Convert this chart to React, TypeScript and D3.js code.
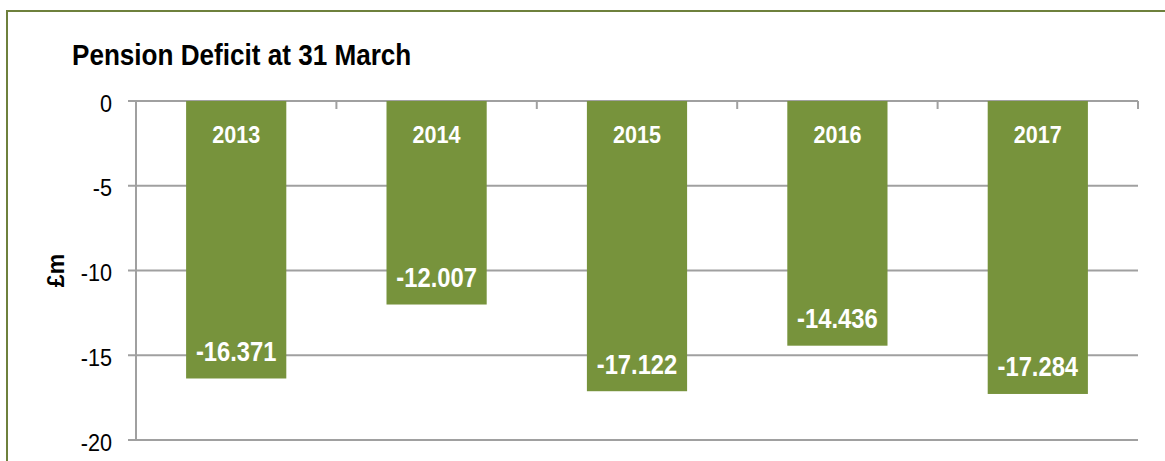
import * as d3 from "d3";
import { useEffect, useRef } from "react";

const years = ["2013", "2014", "2015", "2016", "2017"];
const deficits = [-16.371, -12.007, -17.122, -14.436, -17.284];
const yTicks = [0, -5, -10, -15, -20];

const WIDTH = 1165;
const HEIGHT = 461;
const FONT = "'Liberation Sans', Arial, sans-serif";
const BAR = "#77933c";
const GRID = "#a0a0a0";

function DeficitChart() {
  const ref = useRef(null);

  useEffect(() => {
    document.body.style.margin = "0";
    const svg = d3.select(ref.current);
    svg.selectAll("*").remove();

    const x = d3
      .scaleBand()
      .domain(years)
      .range([136, 1138])
      .paddingInner(0.5)
      .paddingOuter(0.25);
    const y = d3.scaleLinear().domain([-20, 0]).range([440, 101]);

    // outer frame (runs off the bottom/right of the picture)
    svg
      .append("rect")
      .attr("x", 7)
      .attr("y", 11)
      .attr("width", 1180)
      .attr("height", 480)
      .attr("fill", "white")
      .attr("stroke", "#6e803c")
      .attr("stroke-width", 2);

    svg
      .append("text")
      .attr("transform", "translate(72,65) scale(0.87,1)")
      .attr("font-family", FONT)
      .attr("font-size", 30)
      .attr("font-weight", "bold")
      .attr("fill", "#000")
      .text("Pension Deficit at 31 March");

    // gridlines + y tick marks
    svg
      .append("g")
      .selectAll("line")
      .data(yTicks)
      .join("line")
      .attr("x1", 128)
      .attr("x2", 1138)
      .attr("y1", (d) => y(d))
      .attr("y2", (d) => y(d))
      .attr("stroke", GRID)
      .attr("stroke-width", 2);

    svg
      .append("g")
      .selectAll("text")
      .data(yTicks)
      .join("text")
      .attr("transform", (d) => `translate(112,${y(d) + 10.5}) scale(0.9,1)`)
      .attr("text-anchor", "end")
      .attr("font-family", FONT)
      .attr("font-size", 24)
      .attr("fill", "#000")
      .text((d) => String(d));

    // y axis line
    svg
      .append("line")
      .attr("x1", 136)
      .attr("x2", 136)
      .attr("y1", y(0))
      .attr("y2", y(-20))
      .attr("stroke", GRID)
      .attr("stroke-width", 2);

    // category tick marks on the zero line
    const step = x.step();
    svg
      .append("g")
      .selectAll("line")
      .data(years)
      .join("line")
      .attr("x1", (d) => x(d) + x.bandwidth() / 2 + step / 2)
      .attr("x2", (d) => x(d) + x.bandwidth() / 2 + step / 2)
      .attr("y1", y(0))
      .attr("y2", y(0) + 8)
      .attr("stroke", GRID)
      .attr("stroke-width", 2);

    const bars = svg
      .append("g")
      .selectAll("g")
      .data(years)
      .join("g");

    bars
      .append("rect")
      .attr("x", (d) => x(d))
      .attr("width", x.bandwidth())
      .attr("y", y(0))
      .attr("height", (d, i) => y(deficits[i]) - y(0))
      .attr("fill", BAR);

    bars
      .append("text")
      .attr(
        "transform",
        (d) => `translate(${x(d) + x.bandwidth() / 2},143) scale(0.9,1)`
      )
      .attr("text-anchor", "middle")
      .attr("font-family", FONT)
      .attr("font-size", 24)
      .attr("font-weight", "bold")
      .attr("fill", "#fff")
      .text((d) => d);

    bars
      .append("text")
      .attr(
        "transform",
        (d, i) =>
          `translate(${x(d) + x.bandwidth() / 2},${
            y(deficits[i]) - 17.5
          }) scale(0.88,1)`
      )
      .attr("text-anchor", "middle")
      .attr("font-family", FONT)
      .attr("font-size", 27)
      .attr("font-weight", "bold")
      .attr("fill", "#fff")
      .text((d, i) => deficits[i].toFixed(3));

    svg
      .append("text")
      .attr("transform", `translate(64,${(y(0) + y(-20)) / 2}) rotate(-90)`)
      .attr("text-anchor", "middle")
      .attr("font-family", FONT)
      .attr("font-size", 23)
      .attr("font-weight", "bold")
      .attr("fill", "#000")
      .text("£m");
  });

  return (
    <svg
      ref={ref}
      width={WIDTH}
      height={HEIGHT}
      style={{ display: "block", background: "white" }}
    />
  );
}

export default function App() {
  return <DeficitChart />;
}
